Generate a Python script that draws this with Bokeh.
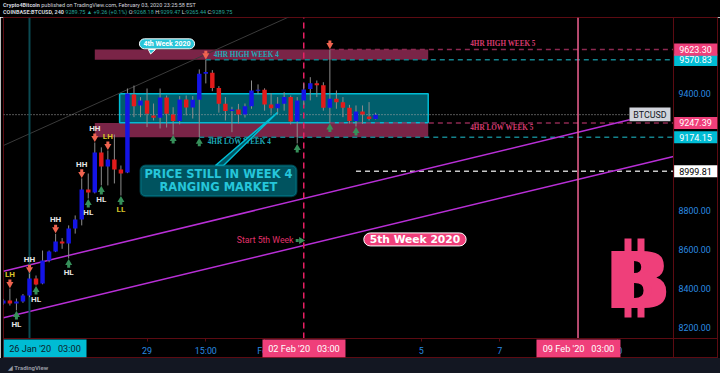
from bokeh.plotting import figure
from bokeh.models import Range1d, FixedTicker, Label, BoxAnnotation, Div
from bokeh.layouts import column
from bokeh.core.properties import value
from bokeh.embed import file_html
from bokeh.resources import INLINE

# ---------------- data (4-hour bars, bar 0 = 26 Jan '20 03:00) ----------------
bar_index = list(range(-4, 54))
open_ = [8322, 8337, 8322, 8332, 8362, 8450, 8424, 8542, 8588, 8640,
         8629, 8706, 8752, 8906, 8891, 9096, 9024, 9060, 9009, 8993,
         9393, 9337, 9363, 9286, 9274, 9378, 9291, 9257, 9368, 9326,
         9366, 9500, 9505, 9426, 9346, 9308, 9316, 9291, 9333, 9414,
         9418, 9342, 9323, 9346, 9380, 9255, 9363, 9422, 9451, 9440,
         9325, 9371, 9354, 9325, 9257, 9306, 9280, 9268.18]
high = [8345, 8398, 8347, 8370, 8474, 8465, 8593, 8593, 8679, 8657,
        8722, 8773, 8963, 8988, 9147, 9122, 9106, 9188, 9029, 9424,
        9439, 9380, 9424, 9347, 9424, 9388, 9328, 9385, 9388, 9385,
        9522, 9570.83, 9518, 9436, 9380, 9330, 9345, 9347, 9465, 9445,
        9425, 9400, 9380, 9405, 9388, 9380, 9450, 9482, 9465, 9456,
        9623.30, 9414, 9380, 9340, 9337, 9337, 9354, 9299.47]
low = [8315, 8311, 8286, 8325, 8354, 8414, 8420, 8533, 8585, 8602,
       8552, 8680, 8722, 8860, 8886, 8927, 8927, 8937, 8875, 8990,
       9277, 9277, 9226, 9260, 9219, 9224, 9188, 9240, 9286, 9270,
       9174.15, 9450, 9410, 9300, 9260, 9200, 9245, 9275, 9320, 9395,
       9310, 9295, 9290, 9310, 9240, 9142, 9340, 9363, 9380, 9310,
       9247.39, 9320, 9277, 9245, 9229, 9243, 9260, 9265.44]
close = [8337, 8322, 8332, 8362, 8450, 8419, 8542, 8588, 8640, 8629,
         8706, 8752, 8906, 8891, 9096, 9024, 9060, 9009, 8988, 9398,
         9333, 9363, 9294, 9274, 9378, 9294, 9257, 9368, 9326, 9366,
         9499, 9508, 9426, 9346, 9308, 9316, 9291, 9333, 9414, 9418,
         9342, 9323, 9346, 9380, 9255, 9363, 9419, 9451, 9440, 9325,
         9371, 9354, 9325, 9257, 9306, 9290, 9268, 9289.75]

x_tick_bars = [18, 27, 36, 60, 72, 90]
x_tick_labels = ["29", "15:00", "Feb", "5", "7", "10"]
y_ticks = [8200, 8400, 8600, 8800, 9400]

swing_high_bars = [-3, 0, 4, 8, 10, 12, 27, 46]
swing_high_labels = ["LH", "HH", "HH", "HH", "HH", "LH", "", ""]
swing_low_bars = [-2, 1, 6, 9, 11, 14, 22, 26, 41, 46, 50]
swing_low_labels = ["HL", "HL", "HL", "HL", "HL", "LL", "", "", "", "", ""]

week_start_bars = [0, 42, 84]
week_start_labels = ["26 Jan '20\u00a0\u00a0\u00a003:00", "02 Feb '20\u00a0\u00a0\u00a003:00",
                     "09 Feb '20\u00a0\u00a0\u00a003:00"]

level_values = [9570.83, 9623.30, 9247.39, 9174.15, 8999.81]
level_start_bars = [27, 46, 46, 26, 50]
last_price = 9289.75
week4_high_band = [9570.83, 9623.30]
week4_low_band = [9174.15, 9247.39]
range_box = [9248, 9397]
channel_upper = [[-3.98, 91.9], [8487.3, 9263.6]]
channel_lower = [[-3.98, 98.62], [8248.3, 9075.4]]
trend_gray = [[-3.98, 50.0], [9131.8, 9946.0]]

# ---------------- styling ----------------
BLUE = "#1414e6"
RED = "#e21b1b"
PINK = "#ef3f7a"
CYAN = "#00bcd4"
MAROON = "#7a2447"
AXIS_RED = "#5c0b12"
TICK_BLUE = "#2a8be0"
ARROW_RED = "#f06450"
ARROW_GREEN = "#36905a"

X0, XP, XE = -3.98, 98.62, 105.36     # frame left, price-axis line, frame right (bars)
Y0, YT, YE = 8044.6, 8142, 9788       # frame bottom, time-axis line, frame top (price)

fig = figure(width=720, height=341, x_range=Range1d(X0, XE), y_range=Range1d(Y0, YE),
             y_axis_location="right", toolbar_location=None, output_backend="svg",
             min_border_left=3, min_border_right=3, min_border_top=0, min_border_bottom=1,
             background_fill_color="#000000", border_fill_color="#000000",
             outline_line_color=AXIS_RED)
fig.grid.visible = False

# axes (placed on the chart's own pane edges)
fig.xaxis.fixed_location = YT
fig.yaxis.fixed_location = XP
fig.xaxis.ticker = FixedTicker(ticks=x_tick_bars)
fig.xaxis.major_label_overrides = {b: t for b, t in zip(x_tick_bars, x_tick_labels)}
fig.yaxis.ticker = FixedTicker(ticks=y_ticks)
fig.yaxis.major_label_overrides = {v: f"{v:.2f}" for v in y_ticks}
for ax in (fig.xaxis[0], fig.yaxis[0]):
    ax.axis_line_color = AXIS_RED
    ax.major_tick_line_color = AXIS_RED
    ax.minor_tick_line_color = None
    ax.major_tick_in = 0
    ax.major_label_text_color = TICK_BLUE
    ax.major_label_text_font = "Roboto"
    ax.major_label_text_font_size = "8.9px"
fig.xaxis.major_tick_out = 3
fig.xaxis.major_label_standoff = 4
fig.yaxis.major_tick_out = 0
fig.yaxis.major_label_standoff = 5

band_l, band_r = 10, 61.06
fig.quad(left=[band_l, band_l], right=[band_r, band_r],
         bottom=[week4_high_band[0], week4_low_band[0]], top=[week4_high_band[1], week4_low_band[1]],
         fill_color=MAROON, line_color=None)
fig.quad(left=[13.8], right=[band_r], bottom=[range_box[0]], top=[range_box[1]],
         fill_color="#005e6c", line_color=CYAN, line_width=1.5)

fig.line(trend_gray[0], trend_gray[1], line_color="#3a3a3a", line_width=1)

level_colors = ["#14828c", "#8c2850", "#8c2850", "#14828c", "#c8c8c8"]
fig.segment(x0=level_start_bars, y0=level_values, x1=[XP] * len(level_values), y1=level_values,
            line_color=level_colors, line_width=1.5, line_dash="5 4")

fig.line([X0, 91.88], [last_price, last_price], line_color="#aaaaaa", line_width=1, line_dash="1 2")

fig.line(channel_upper[0], channel_upper[1], line_color="#b82fd6", line_width=1.5)
fig.line(channel_lower[0], channel_lower[1], line_color="#b82fd6", line_width=1.5)

# week start verticals
fig.segment(x0=week_start_bars, x1=week_start_bars, y0=[YT] * 3, y1=[YE] * 3,
            line_color=["#0b4a52", "#e91e63", "#f06292"], line_width=[2, 1.5, 1.5],
            line_dash=["solid", "6 4", "solid"])

# candles
colors = [BLUE if c >= o else RED for o, c in zip(open_, close)]
fig.segment(x0=bar_index, y0=low, x1=bar_index, y1=high, line_color="#8c8c8c", line_width=1)
body_top = [max(o, c) for o, c in zip(open_, close)]
body_bot = [min(o, c) for o, c in zip(open_, close)]
body_bot = [b if t - b > 5 else t - 5 for t, b in zip(body_top, body_bot)]
fig.vbar(x=bar_index, top=body_top, bottom=body_bot, width=0.68, fill_color=colors, line_color=None)

# swing markers
ARROW_OFF, TEXT_OFF = 28, 72
hi_of = {b: h for b, h in zip(bar_index, high)}
lo_of = {b: l for b, l in zip(bar_index, low)}
hx = swing_high_bars
hc = [hi_of[b] + ARROW_OFF for b in hx]
fig.scatter(hx, [c - 5 for c in hc], marker="inverted_triangle", size=7, fill_color=ARROW_RED, line_color=None)
fig.scatter(hx, [c + 11 for c in hc], marker="square", size=3, fill_color=ARROW_RED, line_color=None)
lx = swing_low_bars
lc = [lo_of[b] - ARROW_OFF for b in lx]
fig.scatter(lx, [c + 5 for c in lc], marker="triangle", size=7, fill_color=ARROW_GREEN, line_color=None)
fig.scatter(lx, [c - 11 for c in lc], marker="square", size=3, fill_color=ARROW_GREEN, line_color=None)

def lab_color(t):
    return "#d6c42a" if t.startswith("L") else "#e6e6e6"

ht = [(b, t) for b, t in zip(swing_high_bars, swing_high_labels) if t]
fig.text(x=[b for b, _ in ht], y=[hi_of[b] + TEXT_OFF for b, _ in ht], text=[t for _, t in ht],
         text_color=[lab_color(t) for _, t in ht], text_font=value("Roboto"), text_font_style="bold",
         text_font_size="8px", text_align="center", text_baseline="middle")
lt = [(b, t) for b, t in zip(swing_low_bars, swing_low_labels) if t]
fig.text(x=[b for b, _ in lt], y=[lo_of[b] - TEXT_OFF for b, _ in lt], text=[t for _, t in lt],
         text_color=[lab_color(t) for _, t in lt], text_font=value("Roboto"), text_font_style="bold",
         text_font_size="8px", text_align="center", text_baseline="middle")

# level captions
fig.text(x=[28.2, 27.3], y=[9597, 9149], text=["4HR HIGH WEEK 4", "4HR  LOW WEEK 4"],
         text_color="#1fa8b8", text_font=value("Liberation Serif"), text_font_style="bold",
         text_font_size="7.2px", text_align="left", text_baseline="middle")
fig.text(x=[67.5, 67.5], y=[9651, 9220], text=["4HR HIGH WEEK 5", "4HR LOW WEEK 5"],
         text_color="#d63a6e", text_font=value("Liberation Serif"), text_font_style="bold",
         text_font_size="7.2px", text_align="left", text_baseline="middle")

fig.text(x=[40.43], y=[8645], text=["Start 5th Week"], text_color="#e0306a",
         text_font=value("Roboto"), text_font_size="8.7px", text_align="right", text_baseline="middle")
fig.scatter([41.6], [8645], marker="triangle", angle=-1.5708, size=7, fill_color=ARROW_GREEN, line_color=None)
fig.scatter([41.0], [8645], marker="square", size=3, fill_color=ARROW_GREEN, line_color=None)

# callout tails
fig.patch([28.48, 29.71, 37.98], [9029.3, 9029.3, 9301], fill_color="#00535f", line_color=CYAN, line_width=1.5)
fig.patch([18.2, 19.3, 18.55], [9624, 9624, 9601], fill_color="#29c5d8", line_color="#ffffff", line_width=1)

# bitcoin logo
fig.quad(left=[91.12, 93.11, 91.12, 93.11], right=[92.19, 94.18, 92.19, 94.18],
         bottom=[8575, 8575, 8250, 8250], top=[8655, 8655, 8330, 8330], fill_color=PINK, line_color=None)
fig.text(x=[92.58, 93.78], y=[8437, 8437], text=["B", "B"], text_color=PINK, text_font=value("DejaVu Sans"),
         text_font_style="bold", text_font_size="78px", text_align="center", text_baseline="alphabetic")

# callout boxes
fig.add_layout(BoxAnnotation(left=17.0, right=40.89, bottom=8871.9, top=9029.3, fill_color="#00535f",
                             fill_alpha=1, line_color=CYAN, line_width=2, border_radius=5))
for yy, tt in [(8983, "PRICE STILL IN WEEK 4"), (8919, "RANGING MARKET")]:
    fig.add_layout(Label(x=28.94, y=yy, text=tt, text_align="center", text_baseline="middle",
                         text_color="#26c6da", text_font="DejaVu Sans", text_font_style="bold",
                         text_font_size="11.5px"))
fig.add_layout(Label(x=21.06, y=9653, text="4th Week 2020", text_align="center", text_baseline="middle",
                     text_color="#ffffff", text_font="Roboto", text_font_style="bold", text_font_size="7px",
                     background_fill_color="#29c5d8", border_line_color="#ffffff", border_line_width=1,
                     padding=(4, 1), border_radius=6))
fig.add_layout(Label(x=59.03, y=8650, text="5th Week 2020", text_align="center", text_baseline="middle",
                     text_color="#ffffff", text_font="DejaVu Sans", text_font_style="bold",
                     text_font_size="10.7px", background_fill_color=PINK, border_line_color="#ffffff",
                     border_line_width=1, padding=(6, 0), border_radius=7))

# BTCUSD tag
fig.add_layout(BoxAnnotation(left=91.88, right=98.16, bottom=9256, top=9327, fill_color="#d1d4dc",
                             fill_alpha=1, line_color=None))
fig.add_layout(Label(x=95.02, y=last_price, text="BTCUSD", text_align="center", text_baseline="middle",
                     text_color="#131722", text_font="Roboto", text_font_size="8.9px"))

# price tags on price axis
tag_bg = [CYAN, PINK, PINK, CYAN, "#ffffff"]
tag_fg = ["#ffffff", "#ffffff", "#ffffff", "#ffffff", "#000000"]
for v, bg, fg in zip(level_values, tag_bg, tag_fg):
    fig.add_layout(BoxAnnotation(left=XP + 0.1, right=XE, bottom=v - 31, top=v + 31, fill_color=bg,
                                 fill_alpha=1, line_color=None))
    fig.add_layout(Label(x=(XP + XE) / 2, y=v, text=f"{v:.2f}", text_align="center", text_baseline="middle",
                         text_color=fg, text_font="Roboto", text_font_size="9px"))

# date tags on time axis
date_left = [X0, 35.68, 77.64]
date_right = [8.73, 48.39, 90.5]
date_bg = [CYAN, PINK, PINK]
date_fg = ["#0c1d2b", "#ffffff", "#ffffff"]
for l, r, t, bg, fg in zip(date_left, date_right, week_start_labels, date_bg, date_fg):
    fig.add_layout(BoxAnnotation(left=l, right=r, bottom=Y0, top=YT - 5, fill_color=bg, fill_alpha=1,
                                 line_color=None))
    fig.add_layout(Label(x=(l + r) / 2, y=(Y0 + YT) / 2, text=t, text_align="center", text_baseline="middle",
                         text_color=fg, text_font="Roboto", text_font_size="9.2px"))

header_html = (
    '<div style="font-family:Roboto;font-size:5.5px;line-height:7px;color:#d1d4dc;'
    'padding:2px 0 0 3px;white-space:nowrap;">'
    '<b>Crypto4Bitcoin</b> published on TradingView.com, February 03, 2020 23:25:58 EST<br>'
    '<b>COINBASE:BTCUSD, 240</b> <span style="color:#26a69a">9289.75 &#9650; +9.26 (+0.1%)</span> '
    'O:<span style="color:#26a69a">9268.18</span> H:<span style="color:#26a69a">9299.47</span> '
    'L:<span style="color:#26a69a">9265.44</span> C:<span style="color:#26a69a">9289.75</span></div>'
)
header = Div(text=header_html, width=720, height=17, margin=0,
             styles={"background-color": "#000000", "overflow": "hidden"})
footer = Div(text='<div style="font-family:Roboto;font-size:6px;font-weight:bold;color:#9598a1;'
                  'padding:4px 0 0 8px;">&#9698; TradingView</div>',
             width=720, height=15, margin=0,
             styles={"background-color": "#131722", "overflow": "hidden"})

p = column(header, fig, footer, spacing=0)
open("out.html", "w").write(file_html(p, INLINE))
